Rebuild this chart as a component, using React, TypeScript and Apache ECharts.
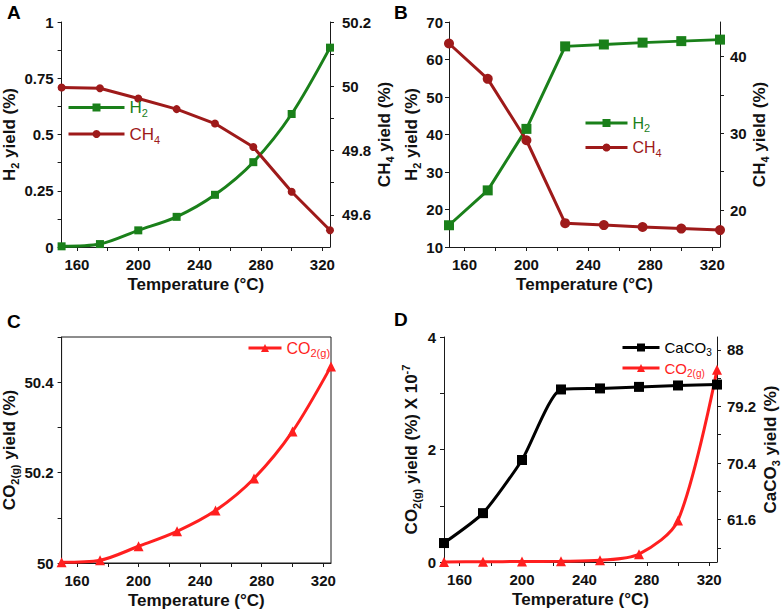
import React, { useEffect, useRef } from "react";
import * as echarts from "echarts";

// ---- data ----
const temps = [150, 175, 200, 225, 250, 275, 300, 325];
const h2A = [0.003, 0.013, 0.074, 0.134, 0.232, 0.377, 0.591, 0.886];
const ch4A = [49.996, 49.994, 49.962, 49.929, 49.884, 49.811, 49.672, 49.552];
const h2B = [15.8, 25.1, 41.5, 63.5, 64.0, 64.5, 64.9, 65.3];
const ch4B = [41.7, 37.1, 29.1, 18.3, 18.05, 17.8, 17.6, 17.4];
const co2C = [50.0015, 50.006, 50.037, 50.07, 50.116, 50.187, 50.291, 50.435];
const co2D = [0, 0.005, 0.008, 0.012, 0.03, 0.14, 0.74, 3.42];
const caco3D = [57.95, 62.6, 70.87, 81.84, 82.0, 82.24, 82.46, 82.6];

// ---- tick labels ----
const xLabelVals = [160, 200, 240, 280, 320];
const xTickVals = [160, 180, 200, 220, 240, 260, 280, 300, 320];
const aLeftLabels = [0, 0.25, 0.5, 0.75, 1];
const aLeftTicks = [0, 0.125, 0.25, 0.375, 0.5, 0.625, 0.75, 0.875, 1];
const aRightLabels = [49.6, 49.8, 50, 50.2];
const aRightTicks = [49.6, 49.7, 49.8, 49.9, 50, 50.1, 50.2];
const bLeftLabels = [10, 20, 30, 40, 50, 60, 70];
const bLeftTicks = [10, 20, 30, 40, 50, 60, 70];
const bRightLabels = [20, 30, 40];
const bRightTicks = [20, 25, 30, 35, 40];
const cLeftLabels = [50, 50.2, 50.4];
const cLeftTicks = [50, 50.1, 50.2, 50.3, 50.4, 50.5];
const dLeftLabels = [0, 2, 4];
const dLeftTicks = [0, 1, 2, 3, 4];
const dRightLabels = [61.6, 70.4, 79.2, 88];
const dRightTicks = [57.2, 61.6, 66, 70.4, 74.8, 79.2, 83.6, 88];

const FONT = "Liberation Sans";
const AX = "#1a1a1a";
const GREEN = "#1a801a";
const MAROON = "#9e1a1a";
const RED = "#ff1f1f";
const BLACK = "#000000";

const nameRich = {
  n: { fontFamily: FONT, fontWeight: "bold", fontSize: 17, lineHeight: 22, color: "#111", verticalAlign: "middle" },
  s: { fontFamily: FONT, fontWeight: "bold", fontSize: 11, lineHeight: 11, color: "#111", verticalAlign: "bottom" },
  p: { fontFamily: FONT, fontWeight: "bold", fontSize: 11, lineHeight: 11, color: "#111", verticalAlign: "top" },
};

function mkLegendRich(size: number) {
  const r: any = {};
  const cols: any = { g: GREEN, r: MAROON, e: RED, k: BLACK };
  Object.keys(cols).forEach((k) => {
    r[k + "n"] = { fontFamily: FONT, fontSize: size, lineHeight: size + 5, color: cols[k], verticalAlign: "middle" };
    r[k + "s"] = { fontFamily: FONT, fontSize: Math.round(size * 0.66), lineHeight: Math.round(size * 0.66), color: cols[k], verticalAlign: "bottom" };
  });
  return r;
}
const legendText: any = {
  H2A: "{gn|H}{gs|2}",
  CH4A: "{rn|CH}{rs|4}",
  H2B: "{gn|H}{gs|2}",
  CH4B: "{rn|CH}{rs|4}",
  CO2C: "{en|CO}{es|2(g)}",
  CaCO3D: "{kn|CaCO}{ks|3}",
  CO2D: "{en|CO}{es|2(g)}",
};

function xAxis(grid: number, nameGap: number) {
  return {
    type: "value",
    gridIndex: grid,
    min: 150,
    max: 325,
    name: "Temperature (°C)",
    nameLocation: "middle",
    nameGap,
    nameMoveOverlap: false,
    nameTextStyle: { fontFamily: FONT, fontWeight: "bold", fontSize: 17, color: "#111" },
    axisLine: { show: true, onZero: false, lineStyle: { color: AX, width: 1 } },
    axisTick: { show: true, inside: false, length: 4, customValues: xTickVals, lineStyle: { color: AX, width: 1 } },
    axisLabel: { customValues: xLabelVals, margin: 10, fontFamily: FONT, fontWeight: "bold", fontSize: 15, color: "#111" },
    splitLine: { show: false },
  };
}

function yAxis(
  grid: number,
  position: string,
  min: number,
  max: number,
  labels: number[],
  ticks: number[],
  name: string,
  nameGap: number,
  margin: number
) {
  return {
    type: "value",
    gridIndex: grid,
    position,
    min,
    max,
    name,
    nameLocation: "middle",
    nameRotate: 90,
    nameGap,
    nameTextStyle: { rich: nameRich, fontFamily: FONT, fontWeight: "bold", fontSize: 17, color: "#111" },
    axisLine: { show: true, onZero: false, lineStyle: { color: AX, width: 1 } },
    axisTick: { show: true, inside: false, length: 4, customValues: ticks, lineStyle: { color: AX, width: 1 } },
    axisLabel: { customValues: labels, margin, fontFamily: FONT, fontWeight: "bold", fontSize: 15, color: "#111" },
    splitLine: { show: false },
  };
}

function pairs(ys: number[]) {
  return temps.map((t, i) => [t, ys[i]]);
}

function line(name: string, xi: number, yi: number, ys: number[], color: string, symbol: string, size: number, smooth: any) {
  return {
    type: "line",
    name,
    xAxisIndex: xi,
    yAxisIndex: yi,
    data: pairs(ys),
    symbol,
    symbolSize: size,
    smooth,
    lineStyle: { color, width: 3 },
    itemStyle: { color },
    clip: false,
  };
}

function legend(names: string[], left: number, top: number, itemWidth: number, itemGap: number, size: number) {
  return {
    show: true,
    orient: "vertical",
    left,
    top,
    padding: 0,
    itemWidth,
    itemHeight: 10,
    itemGap,
    selectedMode: false,
    data: names,
    lineStyle: { width: 3 },
    formatter: (n: string) => legendText[n],
    textStyle: { rich: mkLegendRich(size), fontFamily: FONT, fontSize: size },
  };
}

function letter(t: string, x: number, y: number) {
  return {
    type: "text",
    left: x,
    top: y,
    style: { text: t, fontFamily: FONT, fontWeight: "bold", fontSize: 19, fill: "#000" },
  };
}

export default function App() {
  const ref = useRef<HTMLDivElement>(null);
  useEffect(() => {
    if (!ref.current) return;
    const chart = echarts.init(ref.current, null, { renderer: "svg" });
    const option: any = {
      animation: false,
      backgroundColor: "#ffffff",
      grid: [
        { left: 59, top: 22, width: 271, height: 225 },
        { left: 449, top: 22, width: 271, height: 225 },
        { left: 61, top: 337, width: 270, height: 226, show: true, borderColor: AX, borderWidth: 1, backgroundColor: "transparent" },
        { left: 444, top: 337, width: 276, height: 225 },
      ],
      xAxis: [xAxis(0, 29), xAxis(1, 29), xAxis(2, 29), xAxis(3, 29)],
      yAxis: [
        yAxis(0, "left", 0, 1, aLeftLabels, aLeftTicks, "{n|H}{s|2}{n| yield (%)}", 41, 8),
        yAxis(0, "right", 49.5, 50.2, aRightLabels, aRightTicks, "{n|CH}{s|4}{n| yield (%)}", 43, 12),
        yAxis(1, "left", 10, 70, bLeftLabels, bLeftTicks, "{n|H}{s|2}{n| yield (%)}", 27, 6),
        yAxis(1, "right", 15.2, 44.5, bRightLabels, bRightTicks, "{n|CH}{s|4}{n| yield (%)}", 27, 10),
        yAxis(2, "left", 50, 50.5, cLeftLabels, cLeftTicks, "{n|CO}{s|2(g)}{n| yield (%)}", 39, 8),
        yAxis(3, "left", 0, 4, dLeftLabels, dLeftTicks, "{n|CO}{s|2(g)}{n| yield (%) X 10}{p|-7}", 22, 8),
        yAxis(3, "right", 55, 90, dRightLabels, dRightTicks, "{n|CaCO}{s|3}{n| yield (%)}", 42, 10),
      ],
      legend: [
        legend(["H2A", "CH4A"], 67, 99, 56, 7, 17),
        legend(["H2B", "CH4B"], 584, 115, 42, 6, 16),
        legend(["CO2C"], 247, 340, 33, 5, 16),
        legend(["CaCO3D", "CO2D"], 621, 340, 37, 3, 15),
      ],
      series: [
        line("H2A", 0, 0, h2A, GREEN, "rect", 8, 0.3),
        line("CH4A", 0, 1, ch4A, MAROON, "circle", 8, false),
        line("H2B", 1, 2, h2B, GREEN, "rect", 10, false),
        line("CH4B", 1, 3, ch4B, MAROON, "circle", 10, false),
        line("CO2C", 2, 4, co2C, RED, "triangle", 10, 0.3),
        line("CaCO3D", 3, 6, caco3D, BLACK, "rect", 10, 0.2),
        line("CO2D", 3, 5, co2D, RED, "triangle", 10, 0.3),
      ],
      graphic: [letter("A", 7, 3), letter("B", 394, 3), letter("C", 7, 312), letter("D", 394, 310)],
    };
    chart.setOption(option);
    return () => chart.dispose();
  }, []);
  return <div ref={ref} style={{ position: "fixed", left: 0, top: 0, width: 782, height: 612 }} />;
}
